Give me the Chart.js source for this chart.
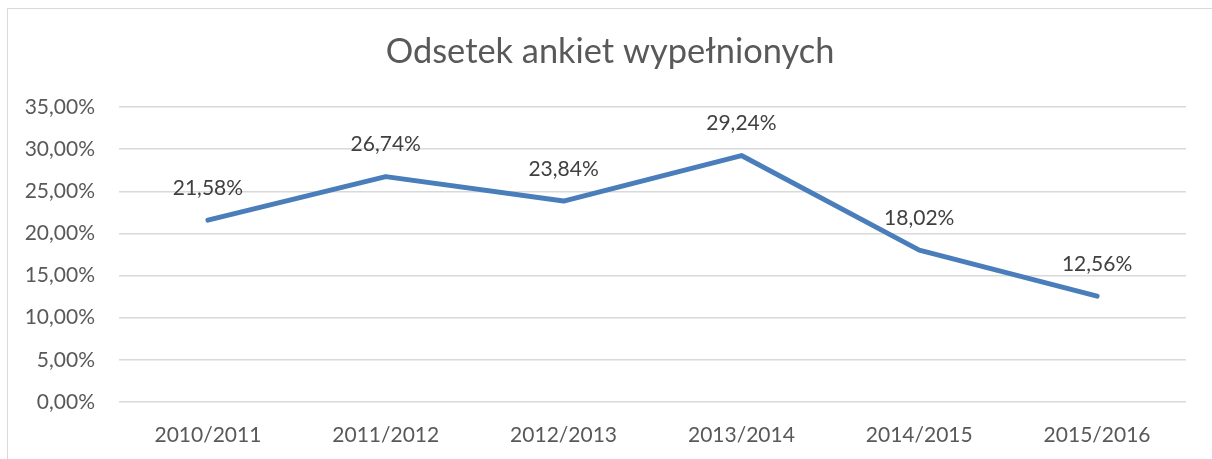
<!DOCTYPE html>
<html>
<head>
<meta charset="utf-8">
<script src="https://cdn.jsdelivr.net/npm/chart.js@4/dist/chart.umd.min.js"></script>
<style>
html,body{margin:0;padding:0;background:#fff;}
canvas{display:block;}
</style>
</head>
<body>
<canvas id="c" width="1212" height="459"></canvas>
<script>
const categories = ['2010/2011','2011/2012','2012/2013','2013/2014','2014/2015','2015/2016'];
const values = [21.58, 26.74, 23.84, 29.24, 18.02, 12.56];
const yTicks = [0, 5, 10, 15, 20, 25, 30, 35];
const titleText = 'Odsetek ankiet wypełnionych';

const fmt = v => v.toFixed(2).replace('.', ',') + '%';
const FONT = 'Lato, "Open Sans", sans-serif';

const borderPlugin = {
  id: 'outerBorder',
  beforeDraw(chart) {
    const ctx = chart.ctx;
    ctx.save();
    ctx.fillStyle = '#fff';
    ctx.fillRect(0, 0, chart.width, chart.height);
    ctx.strokeStyle = '#d9d9d9';
    ctx.lineWidth = 1;
    ctx.strokeRect(7.5, 8.5, 1400, 600);
    // title, centred over the whole (cropped) chart object
    ctx.font = '34.4px ' + FONT;
    ctx.fillStyle = '#595959';
    ctx.textAlign = 'center';
    ctx.textBaseline = 'middle';
    ctx.fillText(titleText, 610, 52);
    ctx.restore();
  }
};

const labelPlugin = {
  id: 'pointLabels',
  afterDatasetsDraw(chart) {
    const ctx = chart.ctx;
    const meta = chart.getDatasetMeta(0);
    ctx.save();
    ctx.font = '21px ' + FONT;
    ctx.fillStyle = '#404040';
    ctx.textAlign = 'center';
    ctx.textBaseline = 'middle';
    meta.data.forEach((el, i) => {
      ctx.fillText(fmt(values[i]), el.x, el.y - 32);
    });
    ctx.restore();
  }
};

new Chart(document.getElementById('c'), {
  type: 'line',
  data: {
    labels: categories,
    datasets: [{
      data: values,
      borderColor: '#4A7EBB',
      borderWidth: 5,
      borderCapStyle: 'round',
      borderJoinStyle: 'round',
      pointRadius: 0,
      pointHoverRadius: 0,
      tension: 0,
      fill: false
    }]
  },
  options: {
    responsive: false,
    animation: false,
    events: [],
    layout: { padding: { top: 107, left: 0, right: 26, bottom: 0 } },
    plugins: {
      legend: { display: false },
      tooltip: { enabled: false },
      title: { display: false }
    },
    scales: {
      x: {
        offset: true,
        afterFit(scale) { scale.height = 57; },
        grid: { display: false, drawTicks: false },
        border: { display: false },
        ticks: {
          color: '#595959',
          font: { family: FONT, size: 21 },
          padding: 21,
          maxRotation: 0
        }
      },
      y: {
        min: 0,
        max: 35,
        afterFit(scale) { scale.width = 119; },
        afterBuildTicks(scale) { scale.ticks = yTicks.map(v => ({ value: v })); },
        grid: { color: '#d9d9d9', lineWidth: 1.5, drawTicks: false },
        border: { display: false },
        ticks: {
          color: '#595959',
          font: { family: FONT, size: 21 },
          padding: 24,
          callback: v => fmt(v)
        }
      }
    }
  },
  plugins: [borderPlugin, labelPlugin]
});
</script>
</body>
</html>
